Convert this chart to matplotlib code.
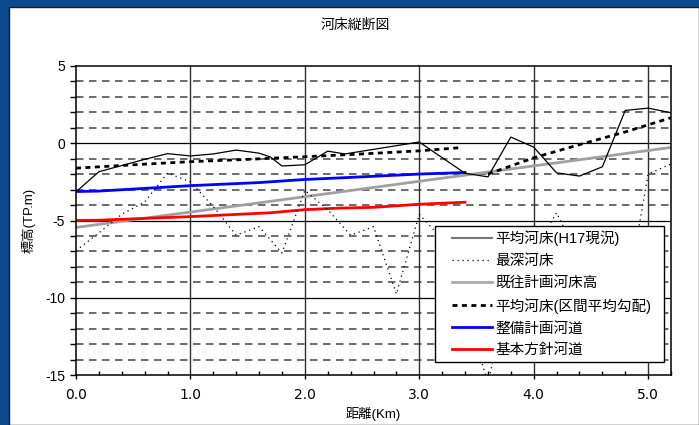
import matplotlib
matplotlib.use("Agg")
import matplotlib.pyplot as plt
from matplotlib.lines import Line2D
from matplotlib.patches import Rectangle
from matplotlib.ticker import MultipleLocator, FixedLocator, FuncFormatter

plt.rcParams['font.family'] = ['Liberation Sans', 'Noto Sans CJK JP', 'DejaVu Sans']

# 平均河床(H17現況)
avg_km = [0.0, 0.2, 0.4, 0.6, 0.8, 1.0, 1.2, 1.4, 1.6, 1.7, 1.8, 2.0, 2.2, 2.35,
          3.0, 3.4, 3.6, 3.8, 4.0, 4.2, 4.4, 4.6, 4.8, 5.0, 5.2]
avg_el = [-3.15, -1.85, -1.45, -1.05, -0.68, -0.83, -0.7, -0.45, -0.65, -0.9, -1.48, -1.4, -0.52, -0.7,
          0.07, -1.95, -2.18, 0.39, -0.26, -1.92, -2.13, -1.53, 2.11, 2.26, 1.96]

# 最深河床
deep_km = [0.0, 0.2, 0.4, 0.6, 0.8, 1.0, 1.2, 1.4, 1.6, 1.8, 2.0, 2.2, 2.4, 2.6, 2.8,
           3.0, 3.2, 3.4, 3.6, 3.8, 4.0, 4.2, 4.4, 4.6, 4.8, 5.0, 5.2]
deep_el = [-6.95, -5.8, -4.6, -3.8, -1.93, -2.5, -4.1, -5.95, -5.4, -7.1, -3.05, -4.3, -5.95, -5.4, -9.75,
           -4.6, -6.2, -10.5, -15.5, -9.0, -7.0, -4.5, -7.5, -9.0, -10.5, -2.0, -1.35]

# 既往計画河床高
plan_km = [0.0, 5.2]
plan_el = [-5.45, -0.28]

# 平均河床(区間平均勾配)
grad1_km = [0.0, 0.5, 1.0, 1.5, 2.0, 2.5, 3.0, 3.35]
grad1_el = [-1.62, -1.4, -1.2, -1.05, -0.88, -0.7, -0.5, -0.3]
grad2_km = [3.6, 4.0, 4.4, 4.8, 5.2]
grad2_el = [-2.0, -0.95, -0.1, 0.72, 1.64]

# 整備計画河道
seibi_km = [0.0, 0.2, 1.0, 1.6, 2.0, 2.3, 3.0, 3.4]
seibi_el = [-3.13, -3.1, -2.75, -2.55, -2.35, -2.25, -2.0, -1.9]

# 基本方針河道
houshin_km = [0.0, 0.2, 1.0, 1.7, 2.0, 2.3, 2.6, 3.0, 3.4]
houshin_el = [-5.0, -4.98, -4.75, -4.5, -4.3, -4.2, -4.15, -3.95, -3.82]

legend_labels = ["平均河床(H17現況)", "最深河床", "既往計画河床高",
                 "平均河床(区間平均勾配)", "整備計画河道", "基本方針河道"]

W, H = 699, 425
fig = plt.figure(figsize=(W / 100, H / 100), dpi=100)
fig.patch.set_facecolor('#0b4a8c')

# white chart sheet on the blue slide
sheet = Rectangle((9 / W, 0), 1 - 9 / W, 1 - 7 / H, transform=fig.transFigure,
                  facecolor='white', edgecolor='#1a1a1a', linewidth=1.0, zorder=-10)
fig.patches.append(sheet)

AX_L, AX_R, AX_T, AX_B = 76, 671, 65.7, 375.3
ax = fig.add_axes([AX_L / W, 1 - AX_B / H, (AX_R - AX_L) / W, (AX_B - AX_T) / H])
ax.set_zorder(1)
ax.set_facecolor('white')
ax.set_xlim(0, 5.2)
ax.set_ylim(-15, 5)


def ax_frac(px, py):
    """pixel position on the sheet -> axes fraction"""
    return (px - AX_L) / (AX_R - AX_L), 1 - (py - AX_T) / (AX_B - AX_T)


# grid: solid at major, dashed at each metre
for y in range(-14, 5):
    if y % 5 == 0:
        ax.axhline(y, color='black', lw=0.9, zorder=1)
    else:
        ax.axhline(y, color='#606060', lw=1.3, dashes=(4.15, 3.05), zorder=1)
for x in [1.0, 2.0, 3.0, 4.0, 5.0]:
    ax.axvline(x, color='#303030', lw=1.0, zorder=1)

DEEP_LS = (0, (1, 3))
GRAD_LS = (0, (1.8, 1.6))
ax.plot(plan_km, plan_el, color='#a0a0a0', lw=2.0, zorder=3)
ax.plot(houshin_km, houshin_el, color='#ff0000', lw=2.0, zorder=4)
ax.plot(seibi_km, seibi_el, color='#0000ff', lw=2.0, zorder=4)
ax.plot(deep_km, deep_el, color='black', lw=0.9, ls=DEEP_LS, zorder=5)
ax.plot(grad1_km, grad1_el, color='black', lw=2.0, ls=GRAD_LS, zorder=5)
ax.plot(grad2_km, grad2_el, color='black', lw=2.0, ls=GRAD_LS, zorder=5)
ax.plot(avg_km, avg_el, color='black', lw=0.9, zorder=6)

# ticks
ax.xaxis.set_major_locator(MultipleLocator(1.0))
ax.xaxis.set_minor_locator(MultipleLocator(0.2))
ax.xaxis.set_major_formatter(FuncFormatter(lambda v, p: f"{v:.1f}"))
ax.yaxis.set_major_locator(FixedLocator([-15, -10, -5, 0, 5]))
ax.yaxis.set_minor_locator(MultipleLocator(1))
ax.yaxis.set_major_formatter(FuncFormatter(lambda v, p: f"{int(v)}"))
ax.tick_params(axis='x', which='major', direction='out', length=3, width=1, labelsize=10, pad=6)
ax.tick_params(axis='x', which='minor', direction='in', length=3, width=1)
ax.tick_params(axis='y', which='both', direction='out', length=4, width=1, labelsize=10, pad=4)
for lbl in ax.get_xticklabels():
    lbl.set_fontfamily(['DejaVu Sans'])
for s in ax.spines.values():
    s.set_linewidth(1.1)
    s.set_color('black')
    s.set_zorder(7)

ax.set_xlabel("距離(Km)", fontsize=9.5, labelpad=4)
ax.set_ylabel("標高(TP.m)", fontsize=9.5, labelpad=7)
fig.text(355 / W, 1 - 25 / H, "河床縦断図", ha='center', va='center', fontsize=10)

# legend box
x0, y0 = ax_frac(435, 362)
x1, y1 = ax_frac(664, 225.7)
ax.add_patch(Rectangle((x0, y0), x1 - x0, y1 - y0, transform=ax.transAxes,
                       facecolor='white', edgecolor='black', lw=1.0, zorder=9, clip_on=False))

handles = [
    Line2D([], [], color='#777777', lw=1.5),
    Line2D([], [], color='black', lw=0.9, ls=DEEP_LS),
    Line2D([], [], color='#aaaaaa', lw=2.0),
    Line2D([], [], color='black', lw=2.0, ls=GRAD_LS),
    Line2D([], [], color='#0000ff', lw=2.0),
    Line2D([], [], color='#ff0000', lw=2.0),
]
leg = ax.legend(handles, legend_labels, loc='upper left',
                bbox_to_anchor=ax_frac(451.6, 230.5),
                fontsize=10.5, frameon=False, handlelength=2.8, handletextpad=0.22,
                labelspacing=0.54, borderpad=0, borderaxespad=0)
leg.set_zorder(10)

fig.savefig("out.png", dpi=100, facecolor=fig.get_facecolor())
